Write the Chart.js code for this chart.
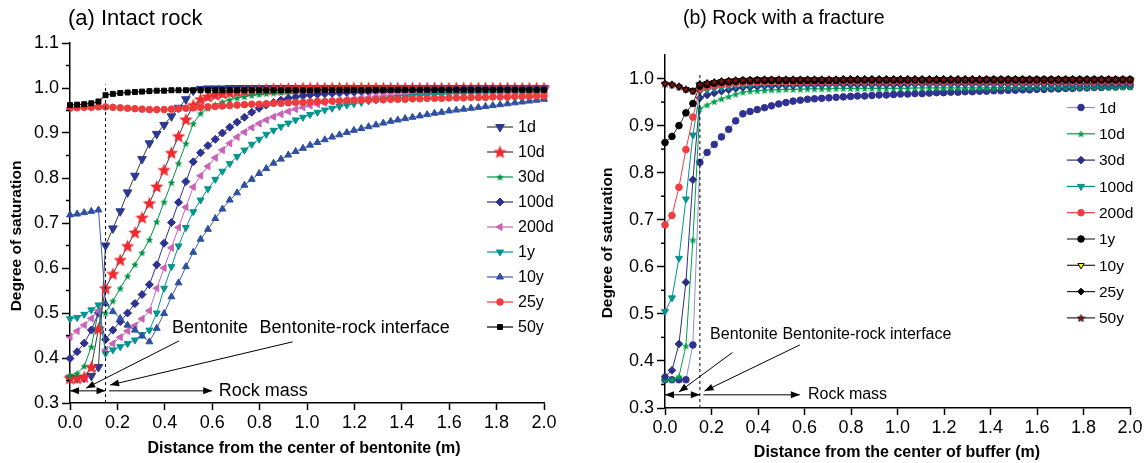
<!DOCTYPE html>
<html>
<head>
<meta charset="utf-8">
<script src="https://cdn.jsdelivr.net/npm/chart.js@4.4.1/dist/chart.umd.min.js"></script>
<style>
  html, body { margin: 0; padding: 0; background: #fff; }
  #wrap { position: relative; width: 1146px; height: 463px; }
  canvas { position: absolute; top: 0; }
  #left { left: 0; }
  #right { left: 573px; }
</style>
</head>
<body>
<div id="wrap">
  <canvas id="left" width="573" height="463"></canvas>
  <canvas id="right" width="573" height="463"></canvas>
</div>
<script>
// distance nodes: bentonite (0 - 0.12 m) then rock (0.15 - 2.0 m)
const distance = [
  0, 0.03, 0.06, 0.09, 0.12,
  0.15, 0.181, 0.212, 0.243, 0.274, 0.304, 0.335, 0.366, 0.397, 0.428,
  0.458, 0.489, 0.52, 0.551, 0.582, 0.613, 0.643, 0.674, 0.705, 0.736,
  0.767, 0.798, 0.828, 0.859, 0.89, 0.921, 0.952, 0.983, 1.013, 1.044,
  1.075, 1.106, 1.137, 1.168, 1.198, 1.229, 1.26, 1.291, 1.322, 1.353,
  1.383, 1.414, 1.445, 1.476, 1.507, 1.538, 1.568, 1.599, 1.63, 1.661,
  1.692, 1.723, 1.753, 1.784, 1.815, 1.846, 1.877, 1.908, 1.938, 1.969,
  2.0
];

const xTicks = [0, 0.2, 0.4, 0.6, 0.8, 1.0, 1.2, 1.4, 1.6, 1.8, 2.0];
const yTicksLeft = [0.3, 0.4, 0.5, 0.6, 0.7, 0.8, 0.9, 1.0, 1.1];
const yMinorLeft = [0.35, 0.45, 0.55, 0.65, 0.75, 0.85, 0.95, 1.05];
const yTicksRight = [0.3, 0.4, 0.5, 0.6, 0.7, 0.8, 0.9, 1.0];
const yMinorRight = [0.35, 0.45, 0.55, 0.65, 0.75, 0.85, 0.95];

const timeLabels = ['1d', '10d', '30d', '100d', '200d', '1y', '10y', '25y', '50y'];

// (a) intact rock
const intact1d = [
  0.355, 0.355, 0.356, 0.36, 0.38,
  0.65, 0.688, 0.726, 0.768, 0.805, 0.842, 0.877, 0.898, 0.918, 0.937,
  0.956, 0.975, 0.994, 0.998, 0.999, 0.999, 0.999, 1.0, 1.0, 1.0,
  1.0, 1.0, 1.0, 1.0, 1.0, 1.0, 1.0, 1.0, 1.0, 1.0,
  1.0, 1.0, 1.0, 1.0, 1.0, 1.0, 1.0, 1.0, 1.0, 1.0,
  1.0, 1.0, 1.0, 1.0, 1.0, 1.0, 1.0, 1.0, 1.0, 1.0,
  1.0, 1.0, 1.0, 1.0, 1.0, 1.0, 1.0, 1.0, 1.0, 1.0,
  1.0
];
const intact10d = [
  0.355, 0.355, 0.358, 0.38, 0.465,
  0.555, 0.587, 0.618, 0.649, 0.679, 0.712, 0.744, 0.781, 0.818, 0.856,
  0.893, 0.93, 0.962, 0.975, 0.981, 0.985, 0.988, 0.99, 0.992, 0.994,
  0.995, 0.996, 0.997, 0.998, 0.998, 0.999, 0.999, 1.0, 1.0, 1.0,
  1.0, 1.0, 1.0, 1.0, 1.0, 1.0, 1.0, 1.0, 1.0, 1.0,
  1.0, 1.0, 1.0, 1.0, 1.0, 1.0, 1.0, 1.0, 1.0, 1.0,
  1.0, 1.0, 1.0, 1.0, 1.0, 1.0, 1.0, 1.0, 1.0, 1.0,
  1.0
];
const intact30d = [
  0.362, 0.366, 0.382, 0.425, 0.505,
  0.50, 0.527, 0.555, 0.582, 0.608, 0.634, 0.663, 0.703, 0.747, 0.79,
  0.833, 0.877, 0.921, 0.944, 0.955, 0.963, 0.969, 0.974, 0.978, 0.981,
  0.984, 0.986, 0.988, 0.989, 0.99, 0.991, 0.992, 0.993, 0.993, 0.994,
  0.994, 0.995, 0.995, 0.995, 0.996, 0.996, 0.996, 0.996, 0.997, 0.997,
  0.997, 0.997, 0.997, 0.997, 0.997, 0.997, 0.997, 0.997, 0.997, 0.997,
  0.998, 0.998, 0.998, 0.998, 0.998, 0.998, 0.998, 0.998, 0.998, 0.998,
  0.998
];
const intact100d = [
  0.399, 0.414, 0.433, 0.462, 0.50,
  0.441, 0.462, 0.481, 0.50, 0.521, 0.541, 0.563, 0.607, 0.655, 0.701,
  0.746, 0.792, 0.836, 0.856, 0.872, 0.886, 0.90, 0.913, 0.924, 0.935,
  0.946, 0.955, 0.962, 0.968, 0.973, 0.977, 0.98, 0.983, 0.985, 0.986,
  0.987, 0.988, 0.989, 0.99, 0.991, 0.992, 0.992, 0.993, 0.993, 0.994,
  0.994, 0.994, 0.995, 0.995, 0.995, 0.996, 0.996, 0.996, 0.996, 0.997,
  0.997, 0.997, 0.997, 0.997, 0.997, 0.997, 0.997, 0.997, 0.997, 0.997,
  0.997
];
const intact200d = [
  0.447, 0.46, 0.473, 0.488, 0.505,
  0.418, 0.432, 0.446, 0.46, 0.472, 0.487, 0.505, 0.555, 0.60, 0.645,
  0.69, 0.735, 0.78, 0.805, 0.826, 0.845, 0.862, 0.877, 0.891, 0.902,
  0.912, 0.921, 0.929, 0.936, 0.942, 0.948, 0.953, 0.957, 0.961, 0.964,
  0.967, 0.97, 0.972, 0.974, 0.976, 0.978, 0.979, 0.981, 0.982, 0.983,
  0.984, 0.985, 0.986, 0.987, 0.987, 0.988, 0.988, 0.989, 0.989, 0.99,
  0.99, 0.99, 0.991, 0.991, 0.991, 0.992, 0.992, 0.992, 0.992, 0.993,
  0.993
];
const intact1y = [
  0.487, 0.49, 0.497, 0.507, 0.518,
  0.41, 0.418, 0.425, 0.432, 0.44, 0.452, 0.462, 0.50, 0.555, 0.603,
  0.649, 0.69, 0.725, 0.751, 0.776, 0.797, 0.815, 0.832, 0.848, 0.862,
  0.875, 0.886, 0.897, 0.906, 0.914, 0.922, 0.929, 0.935, 0.941, 0.946,
  0.951, 0.955, 0.959, 0.962, 0.965, 0.968, 0.971, 0.973, 0.975, 0.977,
  0.979, 0.98, 0.982, 0.983, 0.984, 0.985, 0.986, 0.987, 0.988, 0.988,
  0.989, 0.99, 0.99, 0.991, 0.991, 0.992, 0.992, 0.992, 0.993, 0.993,
  0.993
];
const intact10y = [
  0.718, 0.72, 0.723, 0.726, 0.729,
  0.521, 0.503, 0.488, 0.473, 0.462, 0.449, 0.436, 0.466, 0.499, 0.536,
  0.567, 0.603, 0.635, 0.664, 0.686, 0.71, 0.731, 0.751, 0.767, 0.784,
  0.797, 0.81, 0.821, 0.833, 0.842, 0.851, 0.859, 0.866, 0.873, 0.879,
  0.885, 0.891, 0.896, 0.901, 0.906, 0.91, 0.914, 0.918, 0.922, 0.926,
  0.929, 0.932, 0.935, 0.938, 0.941, 0.944, 0.946, 0.949, 0.951, 0.953,
  0.955, 0.957, 0.959, 0.961, 0.963, 0.965, 0.967, 0.969, 0.971, 0.973,
  0.975
];
const intact25y = [
  0.955, 0.956, 0.957, 0.957, 0.958,
  0.958, 0.957, 0.956, 0.955, 0.954, 0.953, 0.952, 0.952, 0.952, 0.953,
  0.954, 0.955, 0.956, 0.957, 0.958, 0.959, 0.96, 0.961, 0.962, 0.963,
  0.964, 0.964, 0.965, 0.966, 0.966, 0.967, 0.968, 0.968, 0.969, 0.97,
  0.97, 0.971, 0.971, 0.972, 0.972, 0.973, 0.973, 0.974, 0.974, 0.975,
  0.975, 0.975, 0.976, 0.976, 0.977, 0.977, 0.977, 0.978, 0.978, 0.978,
  0.979, 0.979, 0.979, 0.98, 0.98, 0.98, 0.981, 0.981, 0.981, 0.982,
  0.982
];
const intact50y = [
  0.962, 0.963, 0.964, 0.966, 0.97,
  0.984, 0.987, 0.989, 0.99, 0.991, 0.992, 0.993, 0.994, 0.994, 0.995,
  0.995, 0.995, 0.995, 0.995, 0.995, 0.995, 0.995, 0.995, 0.995, 0.995,
  0.995, 0.995, 0.995, 0.995, 0.995, 0.995, 0.995, 0.995, 0.995, 0.995,
  0.996, 0.996, 0.996, 0.996, 0.996, 0.996, 0.996, 0.996, 0.996, 0.996,
  0.996, 0.996, 0.996, 0.996, 0.996, 0.996, 0.996, 0.996, 0.996, 0.996,
  0.996, 0.996, 0.996, 0.996, 0.996, 0.996, 0.996, 0.996, 0.996, 0.996,
  0.996
];

// (b) rock with a fracture
const fracture1d = [
  0.36, 0.36, 0.36, 0.36, 0.434,
  0.822, 0.843, 0.86, 0.876, 0.892, 0.91, 0.925, 0.93, 0.934, 0.938,
  0.942, 0.946, 0.949, 0.952, 0.954, 0.956, 0.957, 0.958, 0.959, 0.96,
  0.961, 0.962, 0.963, 0.963, 0.964, 0.965, 0.965, 0.966, 0.967, 0.967,
  0.968, 0.968, 0.969, 0.97, 0.97, 0.971, 0.971, 0.972, 0.972, 0.973,
  0.973, 0.974, 0.974, 0.975, 0.975, 0.976, 0.976, 0.977, 0.977, 0.978,
  0.978, 0.979, 0.979, 0.98, 0.98, 0.981, 0.981, 0.982, 0.982, 0.983,
  0.983
];
const fracture10d = [
  0.36, 0.36, 0.367, 0.432, 0.657,
  0.936, 0.944, 0.951, 0.957, 0.962, 0.967, 0.971, 0.973, 0.974, 0.975,
  0.976, 0.976, 0.977, 0.977, 0.977, 0.978, 0.978, 0.978, 0.978, 0.979,
  0.979, 0.979, 0.979, 0.979, 0.979, 0.979, 0.979, 0.979, 0.979, 0.979,
  0.98, 0.98, 0.98, 0.98, 0.98, 0.98, 0.98, 0.98, 0.98, 0.98,
  0.98, 0.98, 0.981, 0.981, 0.981, 0.981, 0.981, 0.981, 0.981, 0.981,
  0.981, 0.981, 0.981, 0.981, 0.981, 0.982, 0.982, 0.982, 0.982, 0.982,
  0.982
];
const fracture30d = [
  0.367, 0.38, 0.436, 0.567, 0.785,
  0.959, 0.965, 0.969, 0.973, 0.976, 0.979, 0.981, 0.982, 0.983, 0.984,
  0.984, 0.985, 0.985, 0.985, 0.986, 0.986, 0.986, 0.986, 0.987, 0.987,
  0.987, 0.987, 0.987, 0.987, 0.987, 0.987, 0.987, 0.987, 0.987, 0.987,
  0.988, 0.988, 0.988, 0.988, 0.988, 0.988, 0.988, 0.988, 0.988, 0.988,
  0.988, 0.988, 0.988, 0.988, 0.988, 0.988, 0.988, 0.988, 0.988, 0.988,
  0.988, 0.988, 0.988, 0.988, 0.988, 0.988, 0.988, 0.988, 0.988, 0.988,
  0.988
];
const fracture100d = [
  0.505, 0.534, 0.618, 0.744, 0.88,
  0.972, 0.976, 0.979, 0.981, 0.983, 0.985, 0.986, 0.987, 0.988, 0.988,
  0.989, 0.989, 0.989, 0.989, 0.989, 0.989, 0.989, 0.989, 0.989, 0.989,
  0.99, 0.99, 0.99, 0.99, 0.99, 0.99, 0.99, 0.99, 0.99, 0.99,
  0.99, 0.99, 0.99, 0.99, 0.99, 0.99, 0.99, 0.99, 0.99, 0.99,
  0.99, 0.99, 0.99, 0.99, 0.99, 0.99, 0.99, 0.99, 0.99, 0.99,
  0.99, 0.99, 0.99, 0.99, 0.99, 0.99, 0.99, 0.99, 0.99, 0.99,
  0.99
];
const fracture200d = [
  0.689, 0.709, 0.769, 0.849, 0.918,
  0.978, 0.982, 0.985, 0.987, 0.989, 0.99, 0.991, 0.992, 0.992, 0.993,
  0.993, 0.993, 0.993, 0.993, 0.993, 0.993, 0.993, 0.993, 0.993, 0.993,
  0.994, 0.994, 0.994, 0.994, 0.994, 0.994, 0.994, 0.994, 0.994, 0.994,
  0.994, 0.994, 0.994, 0.994, 0.994, 0.994, 0.994, 0.994, 0.994, 0.994,
  0.994, 0.994, 0.994, 0.994, 0.994, 0.994, 0.994, 0.994, 0.994, 0.994,
  0.994, 0.994, 0.994, 0.994, 0.994, 0.994, 0.994, 0.994, 0.994, 0.994,
  0.994
];
const fracture1y = [
  0.864, 0.877, 0.90, 0.927, 0.947,
  0.984, 0.987, 0.99, 0.992, 0.993, 0.994, 0.995, 0.995, 0.996, 0.996,
  0.996, 0.996, 0.996, 0.996, 0.996, 0.996, 0.996, 0.996, 0.996, 0.996,
  0.997, 0.997, 0.997, 0.997, 0.997, 0.997, 0.997, 0.997, 0.997, 0.997,
  0.997, 0.997, 0.997, 0.997, 0.997, 0.997, 0.997, 0.997, 0.997, 0.997,
  0.997, 0.997, 0.997, 0.997, 0.997, 0.997, 0.997, 0.997, 0.997, 0.997,
  0.997, 0.997, 0.997, 0.997, 0.997, 0.997, 0.997, 0.997, 0.997, 0.997,
  0.997
];
const fracture10y = [
  0.988, 0.986, 0.982, 0.977, 0.975,
  0.987, 0.99, 0.992, 0.994, 0.995, 0.996, 0.997, 0.997, 0.998, 0.998,
  0.998, 0.998, 0.998, 0.998, 0.998, 0.998, 0.998, 0.998, 0.998, 0.998,
  0.998, 0.998, 0.998, 0.998, 0.998, 0.998, 0.998, 0.998, 0.998, 0.998,
  0.998, 0.998, 0.998, 0.998, 0.998, 0.998, 0.998, 0.998, 0.998, 0.998,
  0.999, 0.999, 0.999, 0.999, 0.999, 0.999, 0.999, 0.999, 0.999, 0.999,
  0.999, 0.999, 0.999, 0.999, 0.999, 0.999, 0.999, 0.999, 0.999, 0.999,
  0.999
];
const fracture25y = [
  0.989, 0.987, 0.983, 0.976, 0.973,
  0.988, 0.99, 0.992, 0.994, 0.995, 0.996, 0.997, 0.997, 0.998, 0.998,
  0.998, 0.998, 0.998, 0.998, 0.998, 0.998, 0.998, 0.998, 0.998, 0.998,
  0.999, 0.999, 0.999, 0.999, 0.999, 0.999, 0.999, 0.999, 0.999, 0.999,
  0.999, 0.999, 0.999, 0.999, 0.999, 0.999, 0.999, 0.999, 0.999, 0.999,
  0.999, 0.999, 0.999, 0.999, 0.999, 0.999, 0.999, 0.999, 0.999, 0.999,
  0.999, 0.999, 0.999, 0.999, 0.999, 0.999, 0.999, 0.999, 0.999, 0.999,
  0.999
];
const fracture50y = [
  0.99, 0.988, 0.984, 0.978, 0.974,
  0.989, 0.991, 0.993, 0.995, 0.996, 0.997, 0.997, 0.998, 0.998, 0.999,
  0.999, 0.999, 0.999, 0.999, 0.999, 0.999, 0.999, 0.999, 0.999, 0.999,
  0.999, 0.999, 0.999, 0.999, 0.999, 0.999, 0.999, 0.999, 0.999, 0.999,
  0.999, 0.999, 0.999, 0.999, 0.999, 0.999, 0.999, 0.999, 0.999, 0.999,
  0.999, 0.999, 0.999, 0.999, 0.999, 0.999, 0.999, 0.999, 0.999, 0.999,
  0.999, 0.999, 0.999, 0.999, 0.999, 0.999, 0.999, 0.999, 0.999, 0.999,
  0.999
];

const FONT = '"Liberation Sans", Arial, sans-serif';

function starImg(size, fill, stroke) {
  const c = document.createElement('canvas');
  c.width = size; c.height = size;
  const g = c.getContext('2d');
  const cx = size / 2, cy = size / 2 + 0.5, R = size / 2 - 0.5, r = R * 0.45;
  g.beginPath();
  for (let k = 0; k < 10; k++) {
    const a = -Math.PI / 2 + k * Math.PI / 5;
    const rr = k % 2 ? r : R;
    g.lineTo(cx + rr * Math.cos(a), cy + rr * Math.sin(a));
  }
  g.closePath();
  g.fillStyle = fill; g.fill();
  if (stroke) { g.strokeStyle = stroke; g.lineWidth = 0.7; g.stroke(); }
  return c;
}

function pts(ys) {
  return distance.map((x, i) => ({ x: x, y: ys[i] }));
}

function ds(label, ys, line, marker, style, radius, rotation, fill) {
  return {
    label: label,
    data: pts(ys),
    borderColor: line,
    borderWidth: 1,
    pointStyle: style,
    pointRadius: radius,
    pointRotation: rotation || 0,
    pointBackgroundColor: fill || marker,
    pointBorderColor: marker,
    pointBorderWidth: 1,
    clip: false,
    tension: 0
  };
}

function arrowHead(ctx, x1, y1, x2, y2, len, half) {
  const a = Math.atan2(y2 - y1, x2 - x1);
  ctx.beginPath();
  ctx.moveTo(x2, y2);
  ctx.lineTo(x2 - len * Math.cos(a) + half * Math.sin(a), y2 - len * Math.sin(a) - half * Math.cos(a));
  ctx.lineTo(x2 - len * Math.cos(a) - half * Math.sin(a), y2 - len * Math.sin(a) + half * Math.cos(a));
  ctx.closePath();
  ctx.fill();
}

function arrow(ctx, x1, y1, x2, y2, both) {
  ctx.beginPath(); ctx.moveTo(x1, y1); ctx.lineTo(x2, y2); ctx.stroke();
  arrowHead(ctx, x1, y1, x2, y2, 9, 3.5);
  if (both) arrowHead(ctx, x2, y2, x1, y1, 9, 3.5);
}

function drawExtras(chart, cfg) {
  const ctx = chart.ctx;
  const sx = chart.scales.x, sy = chart.scales.y;
  const X = v => sx.getPixelForValue(v), Y = v => sy.getPixelForValue(v);
  const left = chart.chartArea.left;
  ctx.save();
  ctx.strokeStyle = '#000'; ctx.fillStyle = '#000';

  // minor ticks on the y axis
  ctx.lineWidth = 1.5;
  cfg.minorY.forEach(v => {
    ctx.beginPath(); ctx.moveTo(left - 4, Y(v)); ctx.lineTo(left, Y(v)); ctx.stroke();
  });

  // bentonite-rock interface
  ctx.lineWidth = 1;
  ctx.setLineDash([3, 3]);
  ctx.beginPath(); ctx.moveTo(X(0.15), Y(0.3)); ctx.lineTo(X(0.15), Y(cfg.dashTop)); ctx.stroke();
  ctx.setLineDash([]);

  // arrows
  const a = cfg.arrows;
  arrow(ctx, X(0), Y(a.yRow), X(0.15), Y(a.yRow), true);
  arrow(ctx, X(0.165), Y(a.yRow), X(a.rockEnd), Y(a.yRow), false);
  arrow(ctx, X(a.bent[0]), Y(a.bent[1]), X(a.bent[2]), Y(a.bent[3]), false);
  arrow(ctx, X(a.intf[0]), Y(a.intf[1]), X(a.intf[2]), Y(a.intf[3]), false);

  // annotation texts
  ctx.textBaseline = 'middle'; ctx.textAlign = 'left';
  cfg.texts.forEach(t => {
    ctx.font = t.size + 'px ' + FONT;
    ctx.fillText(t.t, X(t.x), Y(t.y));
  });

  // legend
  const lg = cfg.legend;
  chart.data.datasets.forEach((d, i) => {
    const y = lg.y0 + i * lg.dy;
    ctx.strokeStyle = d.borderColor; ctx.lineWidth = 1.2;
    ctx.beginPath(); ctx.moveTo(lg.x1, y); ctx.lineTo(lg.x2, y); ctx.stroke();
    ctx.fillStyle = d.pointBackgroundColor; ctx.strokeStyle = d.pointBorderColor; ctx.lineWidth = 1;
    Chart.helpers.drawPoint(ctx, {
      pointStyle: d.pointStyle, rotation: d.pointRotation, radius: d.pointRadius, borderWidth: 1
    }, lg.xm, y);
    ctx.fillStyle = '#000';
    ctx.font = lg.size + 'px ' + FONT;
    ctx.fillText(d.label, lg.xt, y + 1);
  });

  // panel title
  ctx.fillStyle = '#000';
  ctx.font = cfg.title.size + 'px ' + FONT;
  ctx.fillText(cfg.title.t, cfg.title.x, cfg.title.y);

  // axis titles
  ctx.textAlign = 'center';
  ctx.font = 'bold 16px ' + FONT;
  ctx.fillText(cfg.xTitle.t, cfg.xTitle.x, cfg.xTitle.y);
  ctx.font = 'bold 15.5px ' + FONT;
  ctx.translate(cfg.yTitle.x, cfg.yTitle.y);
  ctx.rotate(-Math.PI / 2);
  ctx.fillText(cfg.yTitle.t, 0, 0);
  ctx.restore();
}

function makeChart(id, sets, cfg) {
  const extras = { id: 'extras', afterDraw(chart) { drawExtras(chart, cfg); } };
  const tickFont = { family: FONT, size: 18 };
  // later series sit on top, as in the original plot
  sets.forEach((d, i) => { d.order = sets.length - i; });
  return new Chart(document.getElementById(id), {
    type: 'line',
    data: { datasets: sets },
    options: {
      responsive: false,
      animation: false,
      events: [],
      layout: { padding: cfg.padding },
      plugins: { legend: { display: false }, tooltip: { enabled: false } },
      scales: {
        x: {
          type: 'linear', min: 0, max: 2,
          afterBuildTicks: s => { s.ticks = xTicks.map(v => ({ value: v })); },
          afterFit: s => { s.height = cfg.xh; },
          grid: { drawOnChartArea: false, drawTicks: true, tickLength: 7, tickWidth: 1.5, tickColor: '#000' },
          border: { color: '#000', width: 1.5 },
          ticks: { color: '#000', font: tickFont, padding: 2, maxRotation: 0, autoSkip: false,
                   callback: v => Number(v).toFixed(1) }
        },
        y: {
          type: 'linear', min: 0.3, max: cfg.yMax,
          afterBuildTicks: s => { s.ticks = cfg.yTicks.map(v => ({ value: v })); },
          afterFit: s => { s.width = cfg.yw; },
          grid: { drawOnChartArea: false, drawTicks: true, tickLength: 8, tickWidth: 1.5, tickColor: '#000' },
          border: { color: '#000', width: 1.5 },
          ticks: { color: '#000', font: tickFont, padding: 3, autoSkip: false,
                   callback: v => Number(v).toFixed(1) }
        }
      }
    },
    plugins: [extras]
  });
}

const redStar = starImg(15, '#ee2a2f');
const greenStarA = starImg(9, '#009247');
const greenStarB = starImg(9, '#00a14b');
const darkStar = starImg(9, '#8a1414', '#000');

const intactSets = [
  ds(timeLabels[0], intact1d, '#3a3a3a', '#2b3a8f', 'triangle', 5, 180),
  ds(timeLabels[1], intact10d, '#3a3a3a', '#ee2a2f', redStar, 6),
  ds(timeLabels[2], intact30d, '#009247', '#009247', greenStarA, 4),
  ds(timeLabels[3], intact100d, '#2e3192', '#2e3192', 'rectRot', 4),
  ds(timeLabels[4], intact200d, '#c962b8', '#c962b8', 'triangle', 4, 270),
  ds(timeLabels[5], intact1y, '#00958f', '#00958f', 'triangle', 4, 180),
  ds(timeLabels[6], intact10y, '#3f5fae', '#2f4fa0', 'triangle', 4),
  ds(timeLabels[7], intact25y, '#ee3b3b', '#ee3b3b', 'circle', 3.3),
  ds(timeLabels[8], intact50y, '#000000', '#000000', 'rect', 3.5)
];

const fractureSets = [
  ds(timeLabels[0], fracture1d, '#8c90cc', '#2e3192', 'circle', 3.3),
  ds(timeLabels[1], fracture10d, '#00a14b', '#00a14b', greenStarB, 4),
  ds(timeLabels[2], fracture30d, '#2b2f86', '#2b2f86', 'rectRot', 3.8),
  ds(timeLabels[3], fracture100d, '#00958f', '#00958f', 'triangle', 4, 180),
  ds(timeLabels[4], fracture200d, '#ef3e42', '#ef3e42', 'circle', 3.3),
  ds(timeLabels[5], fracture1y, '#333333', '#000000', 'circle', 3.3),
  ds(timeLabels[6], fracture10y, '#222222', '#000000', 'triangle', 3.6, 180, '#fff200'),
  ds(timeLabels[7], fracture25y, '#222222', '#000000', 'rectRot', 3.4),
  ds(timeLabels[8], fracture50y, '#222222', '#000000', darkStar, 4)
];

makeChart('left', intactSets, {
  padding: { left: 0, top: 43, right: 29, bottom: 0 },
  yw: 70, xh: 60, yMax: 1.1,
  yTicks: yTicksLeft, minorY: yMinorLeft, dashTop: 1.008,
  arrows: { yRow: 0.327, rockEnd: 0.6, bent: [0.46, 0.438, 0.068, 0.333], intf: [0.94, 0.436, 0.169, 0.34] },
  texts: [
    { t: 'Bentonite', x: 0.43, y: 0.467, size: 18 },
    { t: 'Bentonite-rock interface', x: 0.80, y: 0.467, size: 18 },
    { t: 'Rock mass', x: 0.628, y: 0.327, size: 18 }
  ],
  legend: { x1: 487, x2: 513, xm: 500, xt: 518, y0: 127, dy: 25, size: 16 },
  title: { t: '(a) Intact rock', x: 68, y: 19, size: 22 },
  xTitle: { t: 'Distance from the center of bentonite (m)', x: 304, y: 449 },
  yTitle: { t: 'Degree of saturation', x: 17, y: 236 }
});

makeChart('right', fractureSets, {
  padding: { left: 0, top: 55, right: 16, bottom: 0 },
  yw: 92, xh: 55, yMax: 1.05,
  yTicks: yTicksRight, minorY: yMinorRight, dashTop: 1.01,
  arrows: { yRow: 0.328, rockEnd: 0.58, bent: [0.29, 0.418, 0.06, 0.334], intf: [0.58, 0.434, 0.17, 0.336] },
  texts: [
    { t: 'Bentonite', x: 0.194, y: 0.455, size: 16 },
    { t: 'Bentonite-rock interface', x: 0.505, y: 0.455, size: 16 },
    { t: 'Rock mass', x: 0.615, y: 0.328, size: 16 }
  ],
  legend: { x1: 494, x2: 522, xm: 508, xt: 526, y0: 107.5, dy: 26.3, size: 15.5 },
  title: { t: '(b) Rock with a fracture', x: 110, y: 19, size: 19.5 },
  xTitle: { t: 'Distance from the center of buffer (m)', x: 324, y: 453 },
  yTitle: { t: 'Degree of saturation', x: 35, y: 243 }
});
</script>
</body>
</html>
